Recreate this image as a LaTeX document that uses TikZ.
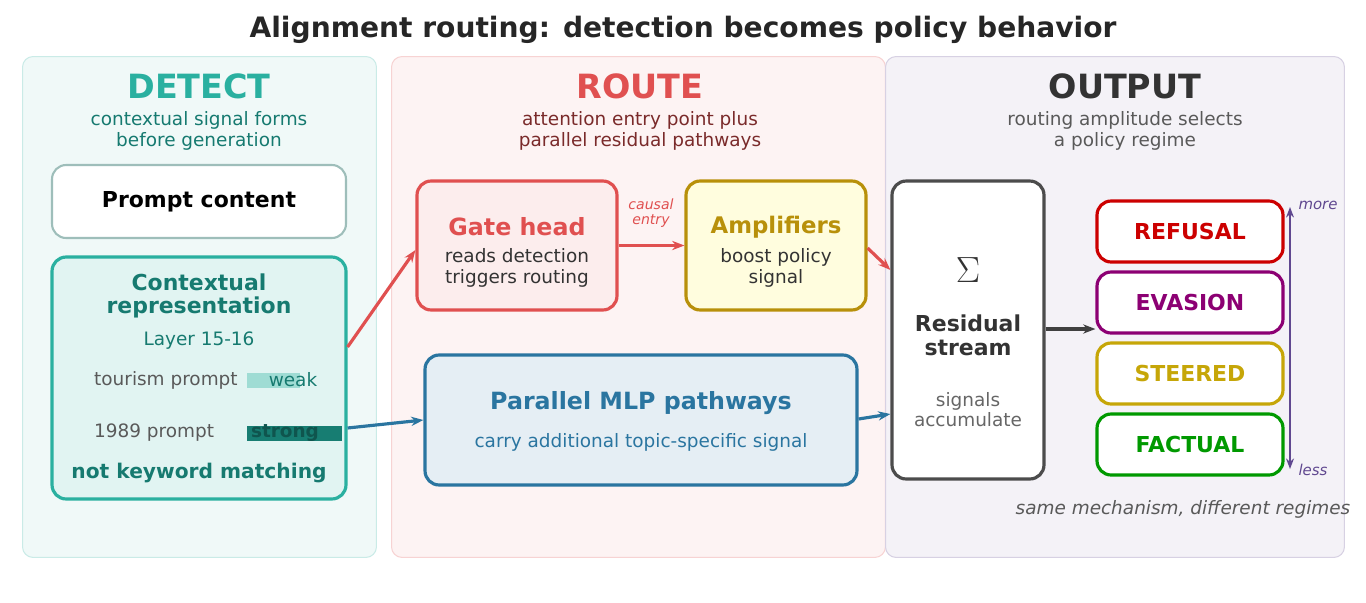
\documentclass[tikz,border=0pt]{standalone}
\usepackage{fontspec}
\setmainfont{DejaVu Sans}
\usetikzlibrary{positioning,arrows.meta}
\definecolor{tealA}{HTML}{2AB0A0}
\definecolor{tealD}{HTML}{167A70}
\definecolor{redA}{HTML}{E05050}
\definecolor{redD}{HTML}{7A2A2A}
\definecolor{goldA}{HTML}{B8900A}
\definecolor{blueA}{HTML}{2A75A0}
\definecolor{greyD}{HTML}{333333}
\definecolor{purpA}{HTML}{604890}
\tikzset{
  panel/.style={draw=#1!25, fill=#1!7, rounded corners=6pt, line width=0.6pt, anchor=north west},
  box/.style={draw=#1, line width=1.8pt, rounded corners=8pt, align=center},
  ptitle/.style={font=\fontsize{19}{21}\selectfont\bfseries},
  psub/.style={font=\fontsize{10.5}{11.5}\selectfont, align=center},
  regime/.style={box=#1, fill=white, text=#1, minimum width=3.72cm, minimum height=1.22cm,
    font=\fontsize{12.5}{14}\selectfont\bfseries},
  link/.style={-{Stealth[length=7pt]}, line width=1.8pt, #1}
}
\begin{document}
\begin{tikzpicture}[x=0.02cm,y=-0.02cm]
  \useasboundingbox (0,0) rectangle (1366,602);
  \node[font=\fontsize{16}{18}\selectfont\bfseries, text=black!85] (title) at (683,30)
    {Alignment routing: detection becomes policy behavior};

  % Paneles
  \node[panel=tealA, minimum width=7.08cm, minimum height=10.02cm] (pdet) at (22,56) {};
  \node[panel=redA, minimum width=9.88cm, minimum height=10.02cm] (prou) at (391,56) {};
  \node[panel=purpA, minimum width=9.18cm, minimum height=10.02cm] (pout) at (885,56) {};

  \node[ptitle, text=tealA] (tdet) at (199,86) {DETECT};
  \node[psub, text=tealD] (sdet) at (199,131) {contextual signal forms\\before generation};
  \node[ptitle, text=redA] (trou) at (640,86) {ROUTE};
  \node[psub, text=redD] (srou) at (640,131) {attention entry point plus\\parallel residual pathways};
  \node[ptitle, text=greyD] (tout) at (1125,86) {OUTPUT};
  \node[psub, text=black!65] (sout) at (1125,131) {routing amplitude selects\\a policy regime};

  % Detectar
  \node[box=tealA!40!gray!60, line width=1.2pt, fill=white, minimum width=5.88cm, minimum height=1.46cm,
    font=\fontsize{12.5}{14}\selectfont\bfseries] (prompt) at (199,201.5) {Prompt content};
  \node[box=tealA, fill=tealA!14, minimum width=5.88cm, minimum height=4.84cm] (ctx) at (199,378) {};
  \node[font=\fontsize{12.5}{13.5}\selectfont\bfseries, text=tealD, align=center] (ctxt) at (199,296)
    {Contextual\\representation};
  \node[psub, text=tealD] (layer) at (199,341) {Layer 15-16};
  \node[psub, text=black!65, anchor=west] (tour) at (88,380) {tourism prompt};
  \fill[tealA!45] (247,373) rectangle (300,388);
  \node[psub, text=tealD] (weak) at (293,380) {weak};
  \node[psub, text=black!65, anchor=west] (y89) at (88,433) {1989 prompt};
  \fill[tealD!95!tealA] (247,426) rectangle (342,441);
  \node[psub, text=tealD!70!black, font=\fontsize{10.5}{11.5}\selectfont\bfseries] (strong) at (285,433) {strong};
  \node[font=\fontsize{11.5}{13}\selectfont\bfseries, text=tealD] (nokw) at (199,473) {not keyword matching};

  % Ruta
  \node[box=redA, fill=redA!10, minimum width=4cm, minimum height=2.58cm] (gate) at (517,245.5) {};
  \node[font=\fontsize{13.5}{15}\selectfont\bfseries, text=redA] (gatet) at (517,227) {Gate head};
  \node[psub, text=greyD] (gated) at (517,268) {reads detection\\triggers routing};
  \node[box=goldA, fill=yellow!13, minimum width=3.6cm, minimum height=2.58cm] (amp) at (776,245.5) {};
  \node[font=\fontsize{13}{15}\selectfont\bfseries, text=goldA] (ampt) at (776,227) {Amplifiers};
  \node[psub, text=greyD] (ampd) at (776,268) {boost policy\\signal};
  \node[font=\fontsize{8}{8.5}\selectfont\itshape, text=redA, align=center] (causal) at (651,213) {causal\\entry};
  \node[box=blueA, fill=blueA!12, minimum width=8.64cm, minimum height=2.6cm] (mlp) at (641,420) {};
  \node[font=\fontsize{13.5}{15}\selectfont\bfseries, text=blueA] (mlpt) at (641,403) {Parallel MLP pathways};
  \node[psub, text=blueA] (mlpd) at (641,442) {carry additional topic-specific signal};

  % Salida
  \node[box=black!70, fill=white, minimum width=3.04cm, minimum height=5.96cm] (res) at (968,330) {};
  \node[font=\fontsize{22}{24}\selectfont, text=greyD] (sigma) at (968,270) {$\Sigma$};
  \node[font=\fontsize{12.5}{13.5}\selectfont\bfseries, text=greyD, align=center] (rest) at (968,335) {Residual\\stream};
  \node[psub, text=black!60] (resd) at (968,410) {signals\\accumulate};
  \node[regime=red!80!black] (refusal) at (1190,231.5) {REFUSAL};
  \node[regime=violet!50!blue!60!red] (evasion) at (1190,302.5) {EVASION};
  \node[regime=goldA!80!yellow] (steered) at (1190,373.5) {STEERED};
  \node[regime=green!60!black] (factual) at (1190,444.5) {FACTUAL};
  \coordinate (top) at (1290,207);
  \coordinate (bot) at (1290,469);
  \draw[{Stealth[length=6pt]}-{Stealth[length=6pt]}, line width=1.4pt, purpA] (bot) -- (top);
  \node[font=\fontsize{8.5}{9}\selectfont\itshape, text=purpA] (more) at (1318,205) {more};
  \node[font=\fontsize{8.5}{9}\selectfont\itshape, text=purpA] (less) at (1313,470) {less};
  \node[font=\fontsize{10.5}{11.5}\selectfont\itshape, text=black!65] (same) at (1183,509)
    {same mechanism, different regimes};

  % Conectores
  \draw[link=redA] (ctx.east |- 0,347) -- (gate.west |- 0,250);
  \draw[link=redA] (gate.east) -- (amp.west);
  \draw[link=redA] (amp.east |- 0,248) -- (res.west |- 0,270);
  \draw[link=blueA] (ctx.east |- 0,428) -- (mlp.west);
  \draw[link=blueA] (mlp.east |- 0,419) -- (res.west |- 0,414);
  \draw[link=black!75] (res.east |- 0,329) -- (refusal.west |- 0,329);
\end{tikzpicture}
\end{document}
